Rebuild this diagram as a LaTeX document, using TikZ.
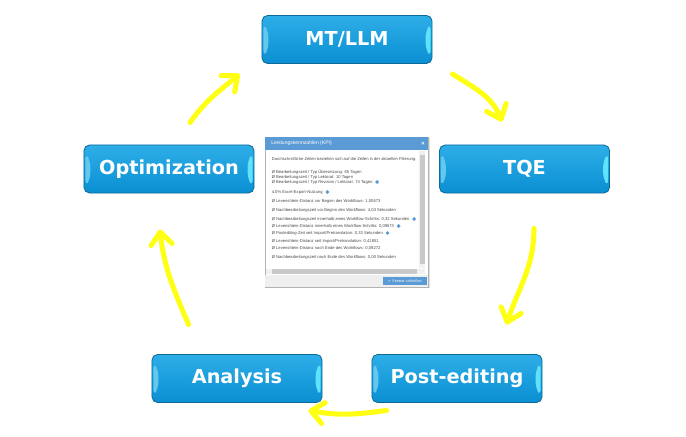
\documentclass[tikz,border=0pt]{standalone}
\usepackage{fontspec}
\setmainfont{DejaVu Sans}
\newfontfamily\kpifont{Liberation Sans}
\usetikzlibrary{arrows.meta, positioning}
\definecolor{stagetop}{HTML}{2EAEE8}
\definecolor{stagebot}{HTML}{0A8FD2}
\definecolor{stageedge}{HTML}{0C6A98}
\definecolor{bevelleft}{HTML}{62C8EF}
\definecolor{bevelright}{HTML}{5FE2FB}
\definecolor{arrowyellow}{HTML}{FFFF14}
\definecolor{kpiblue}{HTML}{5B9BD5}
\definecolor{kpigray}{HTML}{4A4A4A}
\definecolor{kpiscroll}{HTML}{C9C9C9}
\definecolor{kpifoot}{HTML}{EFEFEF}
\tikzset{
    stage/.style={
        rectangle, rounded corners=4pt, minimum width=4.25cm, minimum height=1.2cm,
        top color=stagetop, bottom color=stagebot, draw=stageedge, line width=0.6pt,
        text=white, font=\bfseries\fontsize{13.7}{16}\selectfont,
        path picture={
            \fill[bevelleft] ([shift={(1pt,5pt)}]path picture bounding box.south west)
                -- ([shift={(1pt,-6pt)}]path picture bounding box.north west)
                -- ([shift={(4.5pt,-11pt)}]path picture bounding box.north west)
                -- ([shift={(4.5pt,10pt)}]path picture bounding box.south west) -- cycle;
            \fill[bevelright] ([shift={(-1pt,5pt)}]path picture bounding box.south east)
                -- ([shift={(-1pt,-6pt)}]path picture bounding box.north east)
                -- ([shift={(-4.5pt,-11pt)}]path picture bounding box.north east)
                -- ([shift={(-4.5pt,10pt)}]path picture bounding box.south east) -- cycle;
        }
    },
    cyclearrow/.style={
        draw=arrowyellow, line width=3.6pt, line cap=round,
        -{Straight Barb[length=9pt,width=15pt,round]}
    },
    kpiline/.style={anchor=west, inner sep=0pt, text=kpigray, font=\kpifont\fontsize{2.95}{3.5}\selectfont},
    infoicon/.style={circle, fill=kpiblue, inner sep=0pt, minimum size=2.8pt},
}

\begin{document}
\begin{tikzpicture}[x=0.025cm, y=0.025cm]
    \useasboundingbox (0,0) rectangle (686,436);

    % the five stages
    \node[stage] (mt)  at (347,396.5) {MT/LLM};
    \node[stage] (tqe) at (524.5,267) {TQE};
    \node[stage] (opt) at (169,267) {Optimization};
    \node[stage] (ana) at (237,57.5) {Analysis};
    \node[stage] (post) at (457,57.5) {Post-editing};

    % KPI window in the middle
    \fill[black!12] (266,148) rectangle (429.5,298);
    \draw[black!30, fill=white, line width=0.3pt] (265,149) rectangle (428,299);
    \fill[kpiblue] (265,286) rectangle (428,299);
    \node[anchor=west, inner sep=0pt, text=white, font=\kpifont\fontsize{3.6}{4}\selectfont] (title) at (271,292.5) {Leistungskennzahlen (KPI)};
    \node[inner sep=0pt, text=white, font=\kpifont\bfseries\fontsize{4}{4}\selectfont] (close) at (423,292.5) {×};
    \fill[black!6] (419,168) rectangle (425,285);
    \fill[kpiscroll] (419.5,172) rectangle (424.5,281);
    \fill[black!6] (266,162) rectangle (425,167.5);
    \fill[kpiscroll] (272,162.5) rectangle (417,167);
    \fill[kpifoot] (265.3,149.3) rectangle (427.7,161);
    \node[fill=kpiblue, minimum width=1.1cm, minimum height=0.2cm, inner sep=0pt, text=white, font=\kpifont\fontsize{2.6}{3}\selectfont] (button) at (405,155) {× \ Fenster schließen};

    \node[kpiline] (l1)  at (271.5,277) {Durchschnittliche Zeiten beziehen sich auf die Zeilen in der aktuellen Filterung.};
    \node[kpiline] (l2)  at (271.5,264) {Ø Bearbeitungszeit / Typ Übersetzung: 65 Tagen};
    \node[kpiline] (l3)  at (271.5,259) {Ø Bearbeitungszeit / Typ Lektorat: 10 Tagen};
    \node[kpiline] (l4)  at (271.5,254) {Ø Bearbeitungszeit / Typ Revision / Lektorat: 74 Tagen};
    \node[kpiline] (l5)  at (271.5,244) {4.0\% Excel-Export-Nutzung};
    \node[kpiline] (l6)  at (271.5,235) {Ø Levenshtein-Distanz vor Beginn des Workflows: 1,00673};
    \node[kpiline] (l7)  at (271.5,226) {Ø Nachbearbeitungszeit vor Beginn des Workflows: 4,03 Sekunden};
    \node[kpiline] (l8)  at (271.5,217) {Ø Nachbearbeitungszeit innerhalb eines Workflow-Schritts: 0,32 Sekunden};
    \node[kpiline] (l9)  at (271.5,210) {Ø Levenshtein-Distanz innerhalb eines Workflow-Schritts: 0,09673};
    \node[kpiline] (l10) at (271.5,203) {Ø Postediting-Zeit seit Import/Pretranslation: 0,33 Sekunden};
    \node[kpiline] (l11) at (271.5,195) {Ø Levenshtein-Distanz seit Import/Pretranslation: 0,41851};
    \node[kpiline] (l12) at (271.5,188) {Ø Levenshtein-Distanz nach Ende des Workflows: 0,09272};
    \node[kpiline] (l13) at (271.5,179) {Ø Nachbearbeitungszeit nach Ende des Workflows: 0,00 Sekunden};
    \node[infoicon, right=1.5pt of l4]  (i4)  {};
    \node[infoicon, right=1.5pt of l5]  (i5)  {};
    \node[infoicon, right=1.5pt of l8]  (i8)  {};
    \node[infoicon, right=1.5pt of l9]  (i9)  {};
    \node[infoicon, right=1.5pt of l10] (i10) {};

    % the cycle
    \draw[cyclearrow] ([shift={(21,22)}]opt.north) to[out=55, in=220] ([shift={(-22,-34.5)}]mt.west);
    \draw[cyclearrow] ([shift={(20,-34.5)}]mt.east) to[out=-32, in=112] ([shift={(-22.5,23)}]tqe.north);
    \draw[cyclearrow] ([shift={(9.5,-35)}]tqe.south) to[out=-90, in=72] ([shift={(-36,29.5)}]post.north east);
    \draw[cyclearrow] ([shift={(15,-7.5)}]post.south west) to[out=188, in=-10] ([shift={(-14,-7.5)}]ana.south east);
    \draw[cyclearrow] ([shift={(37,29.5)}]ana.north west) to[out=113, in=-84] ([shift={(-9,-36)}]opt.south);
\end{tikzpicture}
\end{document}
